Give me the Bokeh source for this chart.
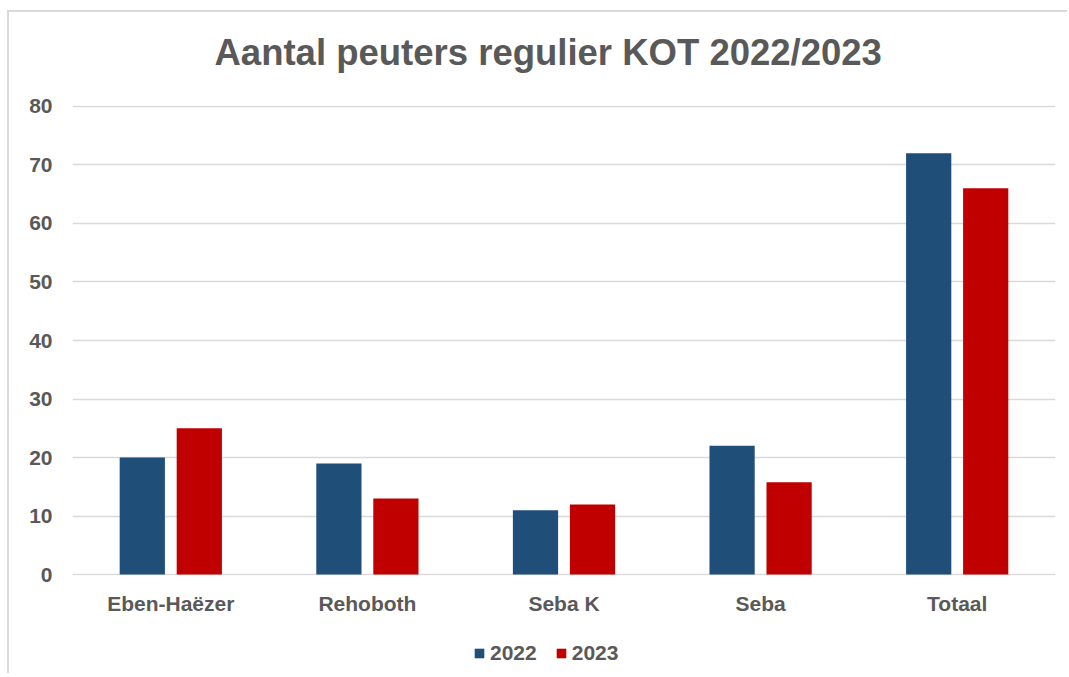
from bokeh.plotting import figure
from bokeh.layouts import column
from bokeh.models import ColumnDataSource, Legend, LegendItem, FixedTicker, Label, Range1d
from bokeh.transform import dodge
from bokeh.embed import file_html
from bokeh.resources import INLINE

categories = ["Eben-Haëzer", "Rehoboth", "Seba K", "Seba", "Totaal"]
values_2022 = [20, 19, 11, 22, 72]
values_2023 = [25, 13, 12, 15.8, 66]
y_ticks = [0, 10, 20, 30, 40, 50, 60, 70, 80]
series_names = ["2022", "2023"]
title_text = "Aantal peuters regulier KOT 2022/2023"

BLUE = "#1F4E79"
RED = "#C00000"
TXT = "#595959"
GRID = "#D9D9D9"
FONT = "Liberation Sans"
W = 1058

# --- title strip ---
tfig = figure(width=W, height=83, x_range=Range1d(0, W), y_range=Range1d(0, 83),
              min_border=0, output_backend="svg", toolbar_location=None)
tfig.axis.visible = False
tfig.grid.visible = False
tfig.outline_line_color = None
tfig.add_layout(Label(x=512, y=43, text=title_text, text_align="center", text_baseline="middle",
                      text_font=FONT, text_font_style="bold", text_font_size="36.5px",
                      text_color=TXT))

# --- main chart ---
source = ColumnDataSource(data=dict(cat=categories, y2022=values_2022, y2023=values_2023))

p = figure(
    x_range=categories, y_range=(-0.15, 80.15),
    frame_width=983, frame_height=470,
    min_border_left=63, min_border_right=12, min_border_top=10, min_border_bottom=58,
    output_backend="svg", toolbar_location=None,
)
p.outline_line_color = None

p.vbar(x=dodge("cat", -0.145, range=p.x_range), top="y2022", width=0.23,
       source=source, fill_color=BLUE, line_color=None)
p.vbar(x=dodge("cat", 0.145, range=p.x_range), top="y2023", width=0.23,
       source=source, fill_color=RED, line_color=None)

p.xgrid.grid_line_color = None
p.ygrid.grid_line_color = GRID
p.ygrid.grid_line_width = 1.5
p.yaxis.ticker = FixedTicker(ticks=y_ticks)

for ax in (p.xaxis[0], p.yaxis[0]):
    ax.axis_line_color = None
    ax.major_tick_line_color = None
    ax.minor_tick_line_color = None
    ax.major_label_text_font = FONT
    ax.major_label_text_font_style = "bold"
    ax.major_label_text_font_size = "21px"
    ax.major_label_text_color = TXT
p.yaxis.major_label_standoff = 14
p.xaxis.major_label_standoff = 10

# --- legend strip (zero-width proxy renderers only supply the legend swatches) ---
lfig = figure(width=W, height=40, x_range=Range1d(0, W), y_range=Range1d(0, 40),
              min_border=0, output_backend="svg", toolbar_location=None)
lfig.axis.visible = False
lfig.grid.visible = False
lfig.outline_line_color = None
k1 = lfig.vbar(x="y2022", top="y2022", width=0, source=source, fill_color=BLUE, line_color=None)
k2 = lfig.vbar(x="y2023", top="y2023", width=0, source=source, fill_color=RED, line_color=None)

legend = Legend(items=[LegendItem(label=series_names[0], renderers=[k1]),
                       LegendItem(label=series_names[1], renderers=[k2])],
                orientation="horizontal", location=(401, 8))
legend.label_text_font = FONT
legend.label_text_font_style = "bold"
legend.label_text_font_size = "21px"
legend.label_text_color = TXT
legend.glyph_width = 12
legend.glyph_height = 12
legend.label_standoff = 5
legend.spacing = 18
legend.padding = 4
legend.margin = 0
legend.border_line_color = None
legend.background_fill_alpha = 0
lfig.add_layout(legend)

layout = column(tfig, p, lfig, spacing=0,
                styles={"border-left": "2px solid #D9D9D9", "border-top": "2px solid #D9D9D9",
                        "margin-left": "7px", "margin-top": "10px"})

open("out.html", "w").write(file_html(layout, INLINE))
